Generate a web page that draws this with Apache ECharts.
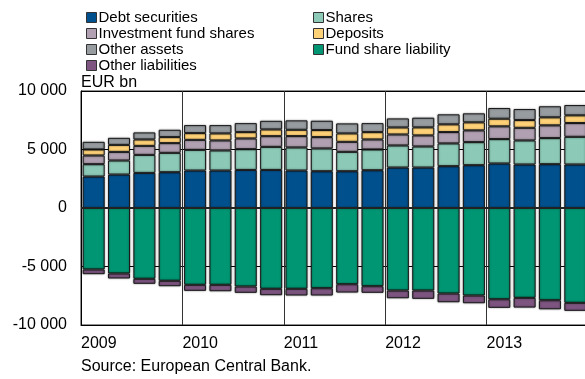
<!DOCTYPE html>
<html>
<head>
<meta charset="utf-8">
<script src="https://cdn.jsdelivr.net/npm/echarts@6/dist/echarts.min.js"></script>
<style>
  html, body { margin: 0; padding: 0; background: #fff; }
  #chart { width: 585px; height: 379px; }
</style>
</head>
<body>
<div id="chart"></div>
<script>
// quarterly, 2009 Q1 - 2013 Q4, EUR bn
const quarters = [
  '2009Q1', '2009Q2', '2009Q3', '2009Q4',
  '2010Q1', '2010Q2', '2010Q3', '2010Q4',
  '2011Q1', '2011Q2', '2011Q3', '2011Q4',
  '2012Q1', '2012Q2', '2012Q3', '2012Q4',
  '2013Q1', '2013Q2', '2013Q3', '2013Q4'
]
const debtSecurities = [2690, 2860, 3000, 3060, 3205, 3205, 3255, 3255, 3205, 3145, 3145, 3230, 3460, 3460, 3575, 3660, 3805, 3720, 3745, 3720]
const shares = [1055, 1200, 1540, 1655, 1765, 1715, 1775, 1970, 1970, 1945, 1655, 1775, 1885, 1800, 1945, 1970, 2085, 2055, 2230, 2365]
const investmentFundShares = [745, 735, 770, 830, 855, 855, 915, 915, 970, 970, 855, 855, 940, 945, 970, 1005, 1090, 1080, 1090, 1175]
const deposits = [515, 600, 550, 515, 575, 600, 540, 575, 540, 600, 720, 625, 600, 685, 660, 685, 650, 660, 685, 660]
const otherAssets = [650, 600, 600, 625, 685, 710, 770, 735, 805, 795, 855, 770, 770, 825, 855, 770, 915, 945, 945, 880]
const fundShareLiability = [-5255, -5595, -6050, -6220, -6565, -6565, -6710, -6905, -6905, -6855, -6515, -6685, -7055, -7055, -7310, -7480, -7800, -7680, -7885, -8105]
const otherLiabilities = [-400, -430, -430, -465, -515, -550, -540, -550, -575, -625, -710, -565, -660, -710, -745, -660, -735, -830, -770, -685]
const yearTicks = [2009, 2010, 2011, 2012, 2013]

const font = 'Arial, "Liberation Sans", sans-serif'

function bar(name, data, color) {
  return {
    name: name,
    type: 'bar',
    stack: 'total',
    barWidth: 22,
    data: data,
    itemStyle: {
      color: color,
      borderColor: '#1a1a1a',
      borderWidth: 1,
      shadowBlur: 2,
      shadowColor: 'rgba(0,0,0,0.45)'
    }
  }
}

const series = [
  bar('Debt securities', debtSecurities, '#00508e'),
  bar('Shares', shares, '#8cc9b7'),
  bar('Investment fund shares', investmentFundShares, '#b0a0b1'),
  bar('Deposits', deposits, '#ffd278'),
  bar('Other assets', otherAssets, '#979ca0'),
  bar('Fund share liability', fundShareLiability, '#009673'),
  bar('Other liabilities', otherLiabilities, '#7d5580')
]
// zero line drawn on top of the bars
series[0].markLine = {
  silent: true,
  symbol: 'none',
  label: { show: false },
  lineStyle: { color: '#222', width: 2, type: 'solid' },
  data: [{ yAxis: 0 }]
}

const legendCommon = {
  orient: 'vertical',
  top: 5,
  itemWidth: 10,
  itemHeight: 10,
  itemGap: 1,
  icon: 'rect',
  itemStyle: { borderColor: '#333', borderWidth: 1, shadowBlur: 0 },
  textStyle: { fontFamily: font, fontSize: 15, color: '#000', lineHeight: 14, padding: [0, 0, 0, -3] }
}

const option = {
  animation: false,
  textStyle: { fontFamily: font },
  legend: [
    Object.assign({}, legendCommon, {
      left: 81,
      data: ['Debt securities', 'Investment fund shares', 'Other assets', 'Other liabilities']
    }),
    Object.assign({}, legendCommon, {
      left: 308,
      data: ['Shares', 'Deposits', 'Fund share liability']
    })
  ],
  grid: {
    left: 81,
    width: 507,
    top: 91,
    bottom: 54,
    outerBoundsMode: 'none',
    show: true,
    borderColor: '#222',
    borderWidth: 1,
    backgroundColor: 'transparent'
  },
  xAxis: [
    {
      type: 'category',
      data: quarters,
      axisLine: { onZero: false, lineStyle: { color: '#000' } },
      axisTick: { show: false },
      axisLabel: { show: false },
      splitLine: { show: false }
    },
    {
      type: 'value',
      position: 'bottom',
      min: 2009,
      max: 2014,
      interval: 1,
      axisLine: { show: false },
      axisTick: { show: false },
      splitLine: { show: true, lineStyle: { color: '#333', width: 1 } },
      axisLabel: {
        align: 'left',
        margin: 11,
        fontSize: 16,
        color: '#000',
        formatter: function (v) {
          return yearTicks.indexOf(v) >= 0 ? String(v) : ''
        }
      }
    }
  ],
  yAxis: {
    type: 'value',
    min: -10000,
    max: 10000,
    interval: 5000,
    axisLine: { show: true, lineStyle: { color: '#000' } },
    axisTick: { show: false },
    splitLine: { show: true, lineStyle: { color: '#000', width: 1 } },
    axisLabel: {
      margin: 14,
      fontSize: 16,
      color: '#000',
      formatter: function (v) {
        return String(v).replace(/\B(?=(\d{3})+(?!\d))/g, ' ')
      }
    }
  },
  graphic: [
    {
      type: 'text',
      left: 81,
      top: 75,
      style: { text: 'EUR bn', fontFamily: font, fontSize: 16, fill: '#000' }
    },
    {
      type: 'text',
      left: 81,
      top: 359,
      style: { text: 'Source: European Central Bank.', fontFamily: font, fontSize: 16, fill: '#000' }
    }
  ],
  series: series
}

const myChart = echarts.init(document.getElementById('chart'))
myChart.setOption(option)
window.onresize = myChart.resize
</script>
</body>
</html>
